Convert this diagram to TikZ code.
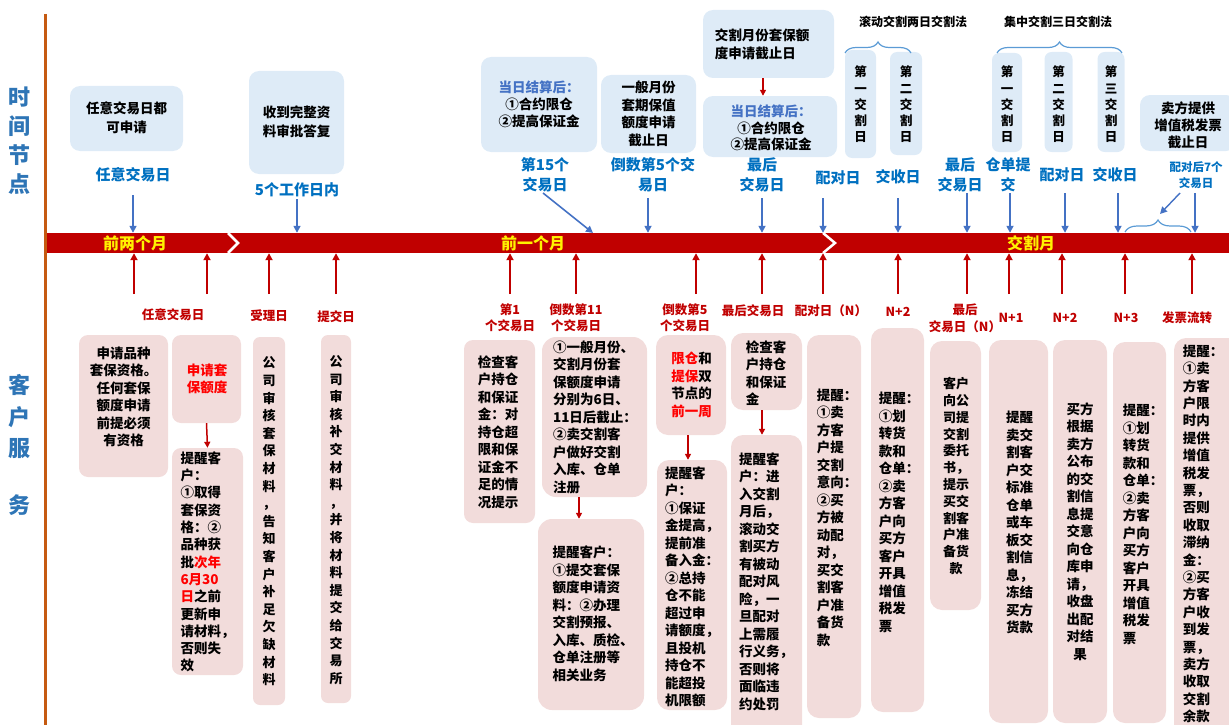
\documentclass[tikz,border=0pt]{standalone}
\usepackage{fontspec}
\setmainfont{Noto Sans CJK SC}
\usetikzlibrary{arrows.meta,decorations.pathreplacing}
\definecolor{pinkc}{HTML}{F2DCDB}
\definecolor{bluec}{HTML}{DEEBF7}
\definecolor{bred}{HTML}{C00000}
\definecolor{tred}{HTML}{FF0000}
\definecolor{lblue}{HTML}{0070C0}
\definecolor{ablue}{HTML}{4472C4}
\definecolor{hblue}{HTML}{2E75B6}
\definecolor{brownc}{HTML}{C55A11}
\definecolor{bracec}{HTML}{5B9BD5}
\newcommand\myfs[2]{\fontsize{#1}{#2}\selectfont\bfseries}
\begin{document}
\begin{tikzpicture}[x=1pt,y=-1pt,
  pbox/.style={fill=pinkc, rounded corners=9pt, inner sep=0pt},
  bbox/.style={fill=bluec, rounded corners=10pt, inner sep=0pt},
  txt/.style={inner sep=0pt, align=center, font=\myfs{13.5}{17.5}},
  txtl/.style={inner sep=0pt, align=left, font=\myfs{13.5}{17.5}},
  vtxt/.style={inner sep=0pt, align=center, font=\myfs{12.5}{16.3}},
  tlabel/.style={inner sep=0pt, align=center, text=lblue, font=\myfs{15}{20}},
  rlabel/.style={inner sep=0pt, align=center, text=bred, font=\myfs{12.5}{16}},
  side/.style={inner sep=0pt, text=hblue, font=\myfs{22}{22}},
  barlabel/.style={inner sep=0pt, text=yellow, font=\myfs{16}{16}},
  barrow/.style={draw=ablue, line width=1.6pt, -{Triangle[width=7pt,length=7pt]}},
  rarrow/.style={draw=bred, line width=1.8pt, -{Triangle[width=7pt,length=7pt]}},
  sarrow/.style={draw=bred, line width=1.5pt, -{Triangle[width=6pt,length=6pt]}},
  bracestyle/.style={draw=bracec, line width=1.2pt, decorate, decoration={brace, amplitude=11pt}}
]
\useasboundingbox (0,0) rectangle (1229,725);

% side line and labels
\coordinate (ltop) at (45,14);
\coordinate (lbot) at (45,725);
\draw[brownc, line width=3pt] (ltop) -- (lbot);
\node[side] (s1) at (20,97) {时};
\node[side] (s2) at (20,126) {间};
\node[side] (s3) at (20,155) {节};
\node[side] (s4) at (20,184) {点};
\node[side] (k1) at (20,385) {客};
\node[side] (k2) at (20,417) {户};
\node[side] (k3) at (20,449) {服};
\node[side] (k4) at (20,505) {务};

% bar
\node[fill=bred, minimum width=1182, minimum height=20, inner sep=0pt] (bar) at (638,243) {};
\coordinate (c1a) at (228,233); \coordinate (c1b) at (238,243); \coordinate (c1c) at (228,253);
\coordinate (c2a) at (823,233); \coordinate (c2b) at (835,243); \coordinate (c2c) at (823,253);
\draw[white, line width=2.5pt] (c1a) -- (c1b) -- (c1c);
\draw[white, line width=2.5pt] (c2a) -- (c2b) -- (c2c);
\node[barlabel] (m1) at (135,243) {前两个月};
\node[barlabel] (m2) at (533,243) {前一个月};
\node[barlabel] (m3) at (1031,243) {交割月};

% ---------- top blue boxes ----------
\node[bbox, minimum width=113, minimum height=65] (b1) at (126.5,118.5) {};
\node[txt, font=\myfs{13.5}{18.5}] (b1t) at (126.5,118) {任意交易日都\\可申请};
\node[bbox, minimum width=95, minimum height=103] (b2) at (296.5,122.5) {};
\node[txt, font=\myfs{13.5}{18.5}] (b2t) at (296.5,122) {收到完整资\\料审批答复};
\node[bbox, minimum width=116, minimum height=95] (b3) at (539,104.5) {};
\node[txt, font=\myfs{13.5}{16.8}] (b3t) at (539,104.5) {\textcolor{ablue}{当日结算后：}\\①合约限仓\\②提高保证金};
\node[bbox, minimum width=95, minimum height=78] (b4) at (648.5,114) {};
\node[txt] (b4t) at (648.5,114) {一般月份\\套期保值\\额度申请\\截止日};
\node[bbox, minimum width=131, minimum height=68] (b5) at (768.5,44) {};
\node[txtl, font=\myfs{13.5}{17.5}] (b5t) at (762,44.5) {交割月份套保额\\度申请截止日};
\node[bbox, minimum width=134, minimum height=61] (b6) at (770,126.5) {};
\node[txt, font=\myfs{13.5}{16.5}] (b6t) at (771,128) {\textcolor{ablue}{当日结算后：}\\①合约限仓\\②提高保证金};
\coordinate (b56) at (763,0);
\draw[sarrow] (b56 |- b5.south) -- (b56 |- b6.north);

\node[bbox, rounded corners=7pt, minimum width=31, minimum height=108] (v1) at (860.5,104) {};
\node[vtxt] (v1t) at (860.5,104.5) {第\\一\\交\\割\\日};
\node[bbox, rounded corners=7pt, minimum width=32, minimum height=103] (v2) at (906,103.5) {};
\node[vtxt] (v2t) at (906,104.5) {第\\二\\交\\割\\日};
\node[bbox, rounded corners=7pt, minimum width=30, minimum height=99] (v3) at (1007,102.5) {};
\node[vtxt] (v3t) at (1007,104.5) {第\\一\\交\\割\\日};
\node[bbox, rounded corners=7pt, minimum width=28, minimum height=100] (v4) at (1058.5,102) {};
\node[vtxt] (v4t) at (1058.5,104.5) {第\\二\\交\\割\\日};
\node[bbox, rounded corners=7pt, minimum width=27, minimum height=100] (v5) at (1111,102) {};
\node[vtxt] (v5t) at (1111,104.5) {第\\三\\交\\割\\日};
\node[bbox, minimum width=96, minimum height=56] (b12) at (1188,123) {};
\node[txt, font=\myfs{13.5}{17}] (b12t) at (1188,125) {卖方提供\\增值税发票\\截止日};

% braces and titles
\coordinate (br1a) at (845,53); \coordinate (br1b) at (911,53);
\coordinate (br2a) at (997,53); \coordinate (br2b) at (1122,53);
\draw[bracestyle] (br1a) -- (br1b);
\draw[bracestyle] (br2a) -- (br2b);
\node[inner sep=0pt, font=\myfs{12}{12}] (ti1) at (913,22) {滚动交割两日交割法};
\node[inner sep=0pt, font=\myfs{12}{12}] (ti2) at (1058,22) {集中交割三日交割法};

% ---------- top labels ----------
\node[tlabel] (l1) at (133,175) {任意交易日};
\node[tlabel] (l2) at (297,190) {5个工作日内};
\node[tlabel] (l3) at (545,175) {第15个\\交易日};
\node[tlabel] (l4) at (653,175) {倒数第5个交\\易日};
\node[tlabel] (l5) at (762,175) {最后\\交易日};
\node[tlabel] (l6) at (838,178) {配对日};
\node[tlabel] (l7) at (898,177) {交收日};
\node[tlabel] (l8) at (960,175) {最后\\交易日};
\node[tlabel] (l9) at (1008,175) {仓单提\\交};
\node[tlabel] (l10) at (1062,175) {配对日};
\node[tlabel] (l11) at (1115,175) {交收日};
\node[tlabel, font=\myfs{11.5}{16}] (l12) at (1196,175) {配对后7个\\交易日};

% top arrows
\coordinate (ta1) at (133,195);
\coordinate (ta2) at (297,199);
\coordinate (ta3) at (543,193); \coordinate (ta3e) at (593,233);
\coordinate (ta4) at (648,198);
\coordinate (ta5) at (762,198);
\coordinate (ta6) at (823,198);
\coordinate (ta7) at (898,198);
\coordinate (ta8) at (967,193);
\coordinate (ta9) at (1010,193);
\coordinate (ta10) at (1065,193);
\coordinate (ta11) at (1118,193);
\coordinate (ta12) at (1195,193);
\foreach \c in {ta1,ta2,ta4,ta5,ta6,ta7,ta8,ta9,ta10,ta11,ta12}
  \draw[barrow] (\c) -- (\c |- bar.north);
\draw[barrow] (ta3) -- (ta3e);
\coordinate (br3a) at (1125,232); \coordinate (br3b) at (1191,232);
\draw[bracestyle, decoration={brace, amplitude=12pt}] (br3a) -- (br3b);
\coordinate (ta13) at (1180,193); \coordinate (ta13e) at (1160,214);
\draw[barrow, line width=1.4pt] (ta13) -- (ta13e);

% ---------- bottom labels ----------
\node[rlabel] (r1) at (173,315) {任意交易日};
\node[rlabel] (r2) at (269,316) {受理日};
\node[rlabel] (r3) at (336,317) {提交日};
\node[rlabel] (r4) at (510,318) {第1\\个交易日};
\node[rlabel] (r5) at (576,318) {倒数第11\\个交易日};
\node[rlabel] (r6) at (685,318) {倒数第5\\个交易日};
\node[rlabel] (r7) at (753,311) {最后交易日};
\node[rlabel] (r8) at (831,311) {配对日（N）};
\node[rlabel] (r9) at (898,312) {N+2};
\node[rlabel, font=\myfs{12.5}{17}] (r10) at (965,318.5) {最后\\交易日（N）};
\node[rlabel] (r11) at (1011,318) {N+1};
\node[rlabel] (r12) at (1065,318) {N+2};
\node[rlabel] (r13) at (1126,318) {N+3};
\node[rlabel] (r14) at (1187,318) {发票流转};

% bottom arrows
\foreach \x [count=\i] in {134,207,269,336,510,576,696,762,823,898,967,1009,1062,1125,1192}{
  \coordinate (ba\i) at (\x,294);
  \draw[rarrow] (ba\i) -- (ba\i |- bar.south);
}

% ---------- pink boxes ----------
\node[pbox, minimum width=89, minimum height=142] (A) at (123.5,406) {};
\node[txt] (At) at (123.5,397) {申请品种\\套保资格。\\任何套保\\额度申请\\前提必须\\有资格};
\node[pbox, minimum width=69, minimum height=88] (B) at (206.5,379) {};
\node[txt, text=tred] (Bt) at (207,379) {申请套\\保额度};
\node[pbox, minimum width=71, minimum height=227] (C) at (207.5,561.5) {};
\node[txtl, font=\myfs{13.5}{17.3}] (Ct) at (207.5,562) {提醒客\\户：\\①取得\\套保资\\格：②\\品种获\\批\textcolor{tred}{次年}\\\textcolor{tred}{6月30}\\\textcolor{tred}{日}之前\\更新申\\请材料，\\否则失\\效};
\draw[sarrow] (B.south) -- (C.north);

\node[pbox, rounded corners=7pt, minimum width=32, minimum height=368] (D) at (269,521) {};
\node[txt, font=\myfs{13}{17.6}] (Dt) at (269,521.5) {公\\司\\审\\核\\套\\保\\材\\料\\，\\告\\知\\客\\户\\补\\足\\欠\\缺\\材\\料};
\node[pbox, rounded corners=7pt, minimum width=30, minimum height=368] (E) at (336,519) {};
\node[txt, font=\myfs{13}{17.6}] (Et) at (336,520) {公\\司\\审\\核\\补\\交\\材\\料\\，\\并\\将\\材\\料\\提\\交\\给\\交\\易\\所};

\node[pbox, minimum width=71, minimum height=183] (F) at (499.5,431.5) {};
\node[txt] (Ft) at (498,432) {检查客\\户持仓\\和保证\\金：对\\持仓超\\限和保\\证金不\\足的情\\况提示};
\node[pbox, rounded corners=14pt, minimum width=105, minimum height=160] (G) at (594.5,417) {};
\node[txtl] (Gt) at (595,417) {①一般月份、\\交割月份套\\保额度申请\\分别为6日、\\11日后截止：\\②卖交割客\\户做好交割\\入库、仓单\\注册};
\node[pbox, rounded corners=14pt, minimum width=106, minimum height=191] (H) at (591,614.5) {};
\node[txtl] (Ht) at (593,614) {提醒客户：\\①提交套保\\额度申请资\\料：②办理\\交割预报、\\入库、质检、\\仓单注册等\\相关业务};
\coordinate (gh) at (579,0);
\draw[sarrow] (gh |- G.south) -- (gh |- H.north);

\node[pbox, rounded corners=12pt, minimum width=70, minimum height=100] (I) at (691,385) {};
\node[txt] (It) at (691.5,385) {\textcolor{tred}{限仓}和\\\textcolor{tred}{提保}双\\节点的\\\textcolor{tred}{前一周}};
\node[pbox, rounded corners=12pt, minimum width=70, minimum height=250] (J) at (692,585) {};
\node[txtl] (Jt) at (692,587) {提醒客\\户：\\①保证\\金提高，\\提前准\\备入金：\\②总持\\仓不能\\超过申\\请额度，\\且投机\\持仓不\\能超投\\机限额};
\coordinate (ij) at (688,0);
\draw[sarrow] (ij |- I.south) -- (ij |- J.north);

\node[pbox, rounded corners=12pt, minimum width=71, minimum height=77] (K) at (766.5,371.5) {};
\node[txtl] (Kt) at (766,373) {检查客\\户持仓\\和保证\\金};
\node[pbox, rounded corners=12pt, minimum width=71, minimum height=310] (L) at (766.5,590) {};
\node[txtl] (Lt) at (766,581.5) {提醒客\\户：进\\入交割\\月后，\\滚动交\\割买方\\有被动\\配对风\\险，一\\旦配对\\上需履\\行义务，\\否则将\\面临违\\约处罚};
\coordinate (kl) at (762,0);
\draw[sarrow] (kl |- K.south) -- (kl |- L.north);

\node[pbox, rounded corners=12pt, minimum width=54, minimum height=383] (M) at (834,526.5) {};
\node[txtl] (Mt) at (837,517.5) {提醒：\\①卖\\方客\\户提\\交割\\意向：\\②买\\方被\\动配\\对，\\买交\\割客\\户准\\备货\\款};
\node[pbox, rounded corners=12pt, minimum width=53, minimum height=384] (N) at (897.5,520) {};
\node[txtl] (Nt) at (899,512.5) {提醒：\\①划\\转货\\款和\\仓单：\\②卖\\方客\\户向\\买方\\客户\\开具\\增值\\税发\\票};
\node[pbox, rounded corners=12pt, minimum width=51, minimum height=269] (O) at (955.5,475.5) {};
\node[txt, font=\myfs{13}{16.8}] (Ot) at (956,476) {客户\\向公\\司提\\交割\\委托\\书，\\提示\\买交\\割客\\户准\\备货\\款};
\node[pbox, rounded corners=12pt, minimum width=59, minimum height=383] (P) at (1018.5,531.5) {};
\node[txt] (Pt) at (1019.5,522.5) {提醒\\卖交\\割客\\户交\\标准\\仓单\\或车\\板交\\割信\\息，\\冻结\\买方\\货款};
\node[pbox, rounded corners=12pt, minimum width=54, minimum height=383] (Q) at (1080,531.5) {};
\node[txt] (Qt) at (1080,531.5) {买方\\根据\\卖方\\公布\\的交\\割信\\息提\\交意\\向仓\\库申\\请，\\收盘\\出配\\对结\\果};
\node[pbox, rounded corners=12pt, minimum width=53, minimum height=381] (R) at (1139.5,532.5) {};
\node[txtl] (Rt) at (1143,524.5) {提醒：\\①划\\转货\\款和\\仓单：\\②卖\\方客\\户向\\买方\\客户\\开具\\增值\\税发\\票};
\node[pbox, rounded corners=12pt, minimum width=66, minimum height=402] (S) at (1207,539) {};
\node[txtl, font=\myfs{13.5}{17.4}] (St) at (1203,534) {提醒：\\①卖\\方客\\户限\\时内\\提供\\增值\\税发\\票，\\否则\\收取\\滞纳\\金：\\②买\\方客\\户收\\到发\\票，\\卖方\\收取\\交割\\余款};
\end{tikzpicture}
\end{document}
